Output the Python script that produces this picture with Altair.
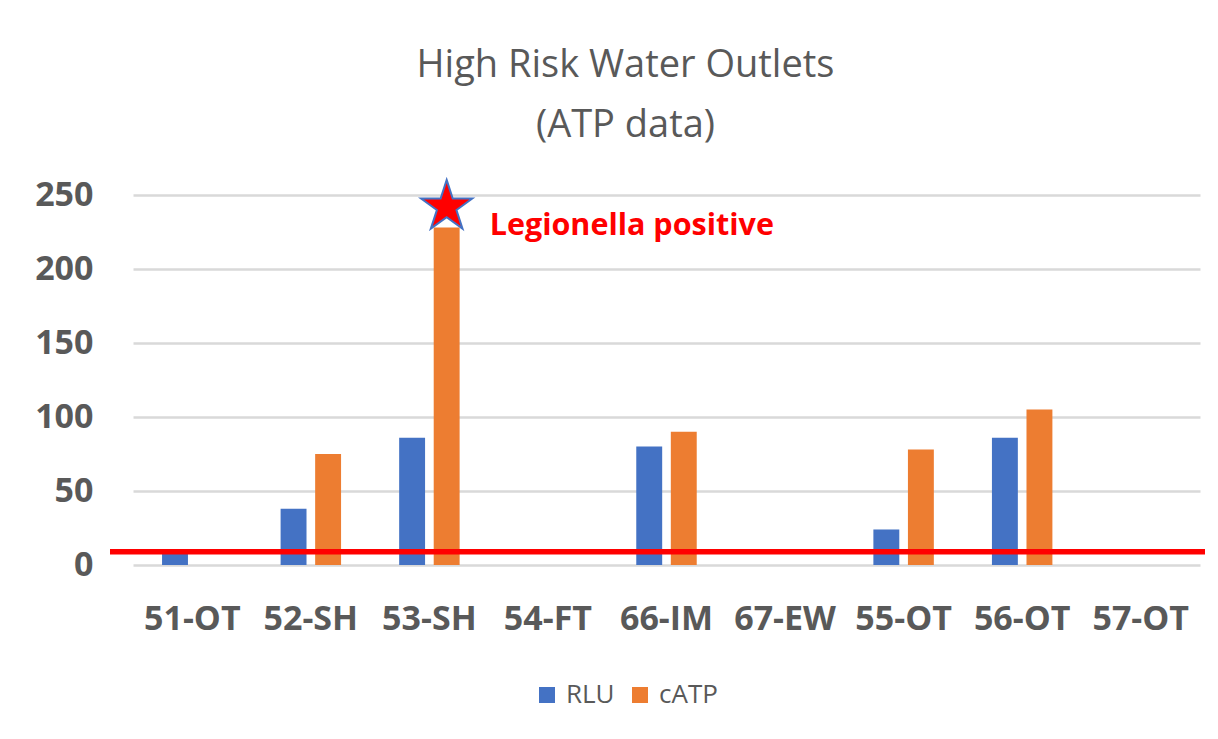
import altair as alt
import pandas as pd

categories = ["51-OT", "52-SH", "53-SH", "54-FT", "66-IM", "67-EW", "55-OT", "56-OT", "57-OT"]
rlu = [9, 38, 86, 0, 80, 0, 24, 86, 0]
catp = [0, 75, 228, 0, 90, 0, 78, 105, 0]
series = ["RLU", "cATP"]
colors = ["#4472C4", "#ED7D31"]
threshold = [9]
star_point = {"cat": "53-SH", "series": "cATP", "value": 242}
note_text = "Legionella positive"
note_value = 231

STAR_PATH = ("M0,-1L0.2245,-0.309L0.9511,-0.309L0.3633,0.118L0.5878,0.809"
             "L0,0.382L-0.5878,0.809L-0.3633,0.118L-0.9511,-0.309L-0.2245,-0.309Z")

rows = []
for c, r, a in zip(categories, rlu, catp):
    rows.append({"cat": c, "series": "RLU", "value": r})
    rows.append({"cat": c, "series": "cATP", "value": a})
df = pd.DataFrame(rows)

FONT = "Open Sans"
GREY = "#595959"

x_enc = alt.X("cat:N", sort=categories, title=None,
              scale=alt.Scale(paddingInner=0.49, paddingOuter=0.245),
              axis=alt.Axis(labelAngle=0, labelFontSize=34, labelFont=FONT,
                            labelFontWeight="bold", labelColor=GREY,
                            labelPadding=54, ticks=False, domain=False,
                            grid=False, labelBaseline="middle"))
xoff_enc = alt.XOffset("series:N", sort=series,
                       scale=alt.Scale(domain=series, paddingInner=0.25))
y_scale = alt.Scale(domain=[0, 250])

bars = alt.Chart(df).mark_bar().encode(
    x=x_enc,
    xOffset=xoff_enc,
    y=alt.Y("value:Q", scale=y_scale, title=None,
            axis=alt.Axis(values=[0, 50, 100, 150, 200, 250], labelFontSize=34,
                          labelFont=FONT, labelFontWeight="bold",
                          labelColor=GREY, labelPadding=40, ticks=False,
                          domain=False, gridColor="#d9d9d9", gridWidth=2.5)),
    color=alt.Color("series:N", sort=series,
                    scale=alt.Scale(domain=series, range=colors),
                    legend=alt.Legend(title=None, orient="none", direction="horizontal",
                                      legendX=401, legendY=487,
                                      symbolType="square", symbolSize=256,
                                      symbolStrokeWidth=0,
                                      labelFontSize=26, labelFont=FONT,
                                      labelColor=GREY, columnPadding=12,
                                      labelOffset=6)),
)

rule = alt.Chart(pd.DataFrame({"t": threshold})).mark_rule(
    color="#ff0000", strokeWidth=5.5
).encode(y=alt.Y("t:Q", scale=y_scale), x=alt.value(-23), x2=alt.value(1072))

sp = pd.DataFrame([star_point])
star = alt.Chart(sp).mark_point(
    shape=STAR_PATH, filled=True, fill="#ff0000", stroke="#4472C4",
    strokeWidth=2, size=2900, opacity=1
).encode(x=alt.X("cat:N", sort=categories), xOffset=alt.XOffset("series:N", sort=series),
         y=alt.Y("value:Q", scale=y_scale))

note = alt.Chart(pd.DataFrame([{"cat": "53-SH", "series": "cATP", "value": note_value, "txt": note_text}])).mark_text(
    align="left", baseline="middle", dx=43, dy=3, fontSize=30.5, font=FONT,
    fontWeight="bold", color="#ff0000"
).encode(x=alt.X("cat:N", sort=categories), xOffset=alt.XOffset("series:N", sort=series),
         y=alt.Y("value:Q", scale=y_scale), text="txt:N")

chart = alt.layer(bars, rule, star, note).properties(
    width=1067, height=370,
    title=alt.TitleParams(text=["High Risk Water Outlets", "(ATP data)"],
                          fontSize=38, font=FONT, fontWeight="normal",
                          color=GREY, lineHeight=60, anchor="middle",
                          frame="group", dx=-41, offset=31),
    autosize=alt.AutoSizeParams(type="none"),
    padding={"left": 125, "top": 187, "right": 10, "bottom": 150},
).configure_view(stroke=None)

chart.save("out.html", embed_options={"renderer": "svg", "actions": False})
